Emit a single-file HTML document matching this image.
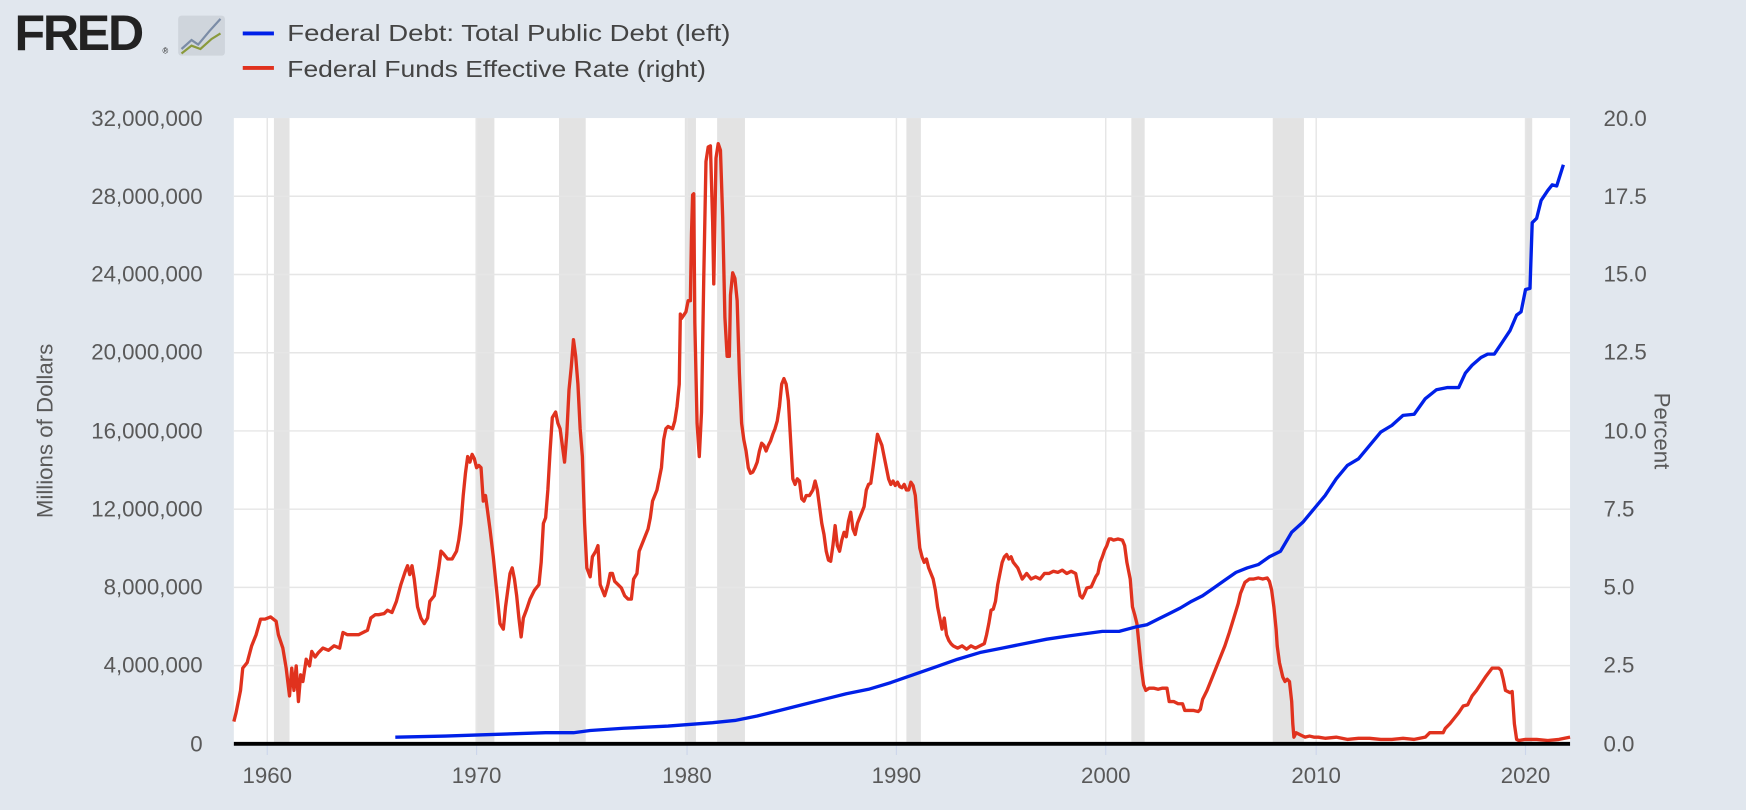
<!DOCTYPE html>
<html><head><meta charset="utf-8"><style>
html,body{margin:0;padding:0;background:#e1e7ee;}
svg{display:block;}
text{font-family:"Liberation Sans",sans-serif;fill:#595959;}
</style></head><body>
<svg width="1746" height="810" viewBox="0 0 1568 727.4" preserveAspectRatio="none" xmlns="http://www.w3.org/2000/svg">
<rect x="0" y="0" width="1568" height="727.4" fill="#e1e7ee"/>
<text x="13" y="45" style="font-weight:bold;font-size:45px;fill:#222;letter-spacing:-2px">FRED</text>
<text x="146" y="48" style="font-size:7px;fill:#222">®</text>
<rect x="160" y="14" width="42" height="36" rx="3" fill="#cfd5dc"/>
<polyline points="163,44 172,36 178,40 188,28 198,17" fill="none" stroke="#7b8ca6" stroke-width="2"/>
<polyline points="163,48 172,41 180,44 190,35 198,30" fill="none" stroke="#8a9a3c" stroke-width="2"/>
<line x1="218" y1="30" x2="246" y2="30" stroke="#0020e8" stroke-width="3.5"/>
<line x1="218" y1="61" x2="246" y2="61" stroke="#e0321e" stroke-width="3.5"/>
<text x="258" y="37" textLength="398" lengthAdjust="spacingAndGlyphs" style="font-size:21px;fill:#444">Federal Debt: Total Public Debt (left)</text>
<text x="258" y="69" textLength="376" lengthAdjust="spacingAndGlyphs" style="font-size:21px;fill:#444">Federal Funds Effective Rate (right)</text>
<rect x="210" y="106" width="1200" height="562" fill="#fff"/>
<g fill="#e3e3e3">
<rect x="246" y="106" width="14" height="562"/><rect x="427" y="106" width="17" height="562"/>
<rect x="502" y="106" width="24" height="562"/><rect x="615" y="106" width="10" height="562"/>
<rect x="644" y="106" width="25" height="562"/><rect x="814" y="106" width="13" height="562"/>
<rect x="1016" y="106" width="12" height="562"/><rect x="1143" y="106" width="28" height="562"/>
<rect x="1370" y="106" width="6" height="562"/>
</g>
<g stroke="#e6e6e6" stroke-width="1.3">
<line x1="210" y1="176.25" x2="1410" y2="176.25"/><line x1="210" y1="246.5" x2="1410" y2="246.5"/>
<line x1="210" y1="316.75" x2="1410" y2="316.75"/><line x1="210" y1="387" x2="1410" y2="387"/>
<line x1="210" y1="457.25" x2="1410" y2="457.25"/><line x1="210" y1="527.5" x2="1410" y2="527.5"/>
<line x1="210" y1="597.75" x2="1410" y2="597.75"/>
<line x1="240" y1="106" x2="240" y2="668"/><line x1="428" y1="106" x2="428" y2="668"/>
<line x1="617" y1="106" x2="617" y2="668"/><line x1="805" y1="106" x2="805" y2="668"/>
<line x1="993" y1="106" x2="993" y2="668"/><line x1="1182" y1="106" x2="1182" y2="668"/>
<line x1="1370" y1="106" x2="1370" y2="668"/>
</g>
<g stroke="#ccd6eb" stroke-width="1">
<line x1="240" y1="668" x2="240" y2="678"/><line x1="428" y1="668" x2="428" y2="678"/><line x1="617" y1="668" x2="617" y2="678"/><line x1="805" y1="668" x2="805" y2="678"/><line x1="993" y1="668" x2="993" y2="678"/><line x1="1182" y1="668" x2="1182" y2="678"/><line x1="1370" y1="668" x2="1370" y2="678"/>
</g>
<polyline fill="none" stroke="#e0321e" stroke-width="3" stroke-linejoin="round" points="210,648 212,640 214,630 216,620 218,600 222,595 226,580 230,570 234,556 238,556 243,554 248,558 250,570 254,582 257,600 260,625 262,600 264,620 266,598 268,630 270,606 272,612 275,592 278,598 280,585 283,590 286,586 290,582 295,584 300,580 305,582 308,568 312,570 318,570 322,570 326,568 330,566 333,555 337,552 340,552 345,551 348,548 352,550 356,540 360,525 364,513 366,508 368,516 370,508 372,520 375,545 378,555 381,560 384,555 386,540 390,535 394,510 396,495 398,497 402,502 406,502 410,495 412,485 414,470 416,445 418,425 420,410 422,415 424,408 426,412 428,420 430,418 432,420 434,450 436,445 438,460 440,475 443,500 446,530 449,560 452,565 454,545 456,530 458,515 460,510 462,520 464,535 466,555 468,572 470,555 473,547 476,538 480,530 484,525 486,505 488,470 490,465 492,440 494,405 496,375 499,370 501,380 503,385 505,400 507,415 509,390 511,350 513,330 515,305 517,320 519,345 521,385 523,410 525,470 527,510 530,518 532,500 535,495 537,490 539,525 541,530 543,535 546,525 548,515 550,515 552,522 555,525 558,528 561,535 564,538 567,538 569,520 572,515 574,495 578,485 582,475 584,465 586,450 590,440 594,420 596,395 598,385 600,383 604,385 606,378 608,365 610,345 611,282 612,286 614,283 616,280 618,270 620,270 621,210 622,175 623,174 624,290 626,380 628,410 630,370 632,250 634,145 636,132 638,131 640,200 641,255 643,142 645,129 647,135 649,195 651,285 653,320 655,320 656,265 658,245 660,250 662,270 664,335 666,380 668,395 670,405 672,420 674,425 676,424 678,420 680,415 682,405 684,398 686,400 688,405 690,400 692,396 694,390 696,385 698,378 700,365 702,345 704,340 706,345 708,360 710,395 712,430 714,435 716,430 718,432 720,448 722,450 724,445 727,445 730,440 732,432 734,440 736,455 738,470 740,480 742,495 744,503 746,504 748,490 750,472 752,490 754,495 756,485 758,478 760,482 762,468 764,460 766,475 768,480 770,470 772,465 774,460 776,455 778,440 780,435 782,434 784,420 786,405 788,390 790,395 792,400 794,410 796,420 798,430 800,435 802,432 804,436 806,433 808,437 810,438 812,435 814,440 816,440 818,433 820,436 822,445 824,470 826,492 828,500 830,505 832,502 834,510 838,520 840,530 842,545 844,555 846,565 848,555 850,570 852,575 854,578 856,580 860,582 864,580 868,583 872,580 876,582 880,580 884,578 886,570 888,560 890,548 892,547 894,540 896,525 898,515 900,505 902,500 904,498 906,502 908,500 910,505 914,510 918,520 922,515 926,520 930,518 934,520 938,515 942,515 946,513 950,514 954,512 958,515 962,513 966,515 968,525 970,535 972,537 974,533 976,528 980,527 984,518 986,515 988,505 990,500 992,494 994,490 996,484 998,484 1000,485 1004,484 1008,485 1010,490 1012,505 1015,520 1017,545 1019,552 1021,560 1023,580 1025,600 1027,615 1029,620 1032,618 1036,618 1040,619 1044,618 1048,618 1050,630 1054,630 1058,632 1062,632 1064,638 1068,638 1072,638 1076,639 1078,637 1080,628 1084,620 1088,610 1092,600 1096,590 1100,580 1104,568 1108,555 1112,542 1114,533 1118,523 1122,520 1126,520 1130,519 1134,520 1138,519 1140,522 1142,530 1144,545 1146,565 1147,580 1149,595 1152,608 1154,612 1156,610 1158,612 1160,630 1161,650 1162,662 1164,658 1168,660 1172,662 1176,661 1180,662 1184,662 1190,663 1200,662 1210,664 1220,663 1230,663 1240,664 1250,664 1260,663 1270,664 1280,662 1284,658 1290,658 1296,658 1298,654 1302,650 1306,645 1310,640 1314,634 1318,633 1322,625 1326,620 1330,614 1334,608 1340,600 1346,600 1348,602 1350,610 1352,620 1356,622 1358,621 1360,650 1362,664 1364,665 1370,664 1380,664 1390,665 1400,664 1405,663 1410,662"/>
<polyline fill="none" stroke="#0020e8" stroke-width="3" stroke-linejoin="round" points="355,662 400,661 430,660 460,659 490,658 515,658 530,656 560,654 600,652 640,649 660,647 680,643 700,638 720,633 740,628 760,623 780,619 800,613 820,606 840,599 860,592 880,586 900,582 920,578 940,574 960,571 975,569 990,567 1005,567 1020,563 1030,561 1040,556 1050,551 1060,546 1070,540 1080,535 1090,528 1100,521 1110,514 1120,510 1130,507 1140,500 1150,495 1160,478 1170,469 1180,457 1190,445 1200,430 1210,418 1220,412 1230,400 1240,388 1250,382 1260,373 1270,372 1280,358 1290,350 1300,348 1310,348 1316,335 1322,328 1330,321 1336,318 1342,318 1350,306 1356,297 1362,283 1366,280 1370,260 1374,259 1376,200 1380,196 1384,180 1390,171 1394,166 1398,167 1404,148"/>
<line x1="210" y1="668" x2="1410" y2="668" stroke="#000" stroke-width="3.5"/>
<g style="font-size:20px" text-anchor="end">
<text x="182" y="113">32,000,000</text><text x="182" y="183">28,000,000</text><text x="182" y="253">24,000,000</text><text x="182" y="323">20,000,000</text><text x="182" y="394">16,000,000</text><text x="182" y="464">12,000,000</text><text x="182" y="534">8,000,000</text><text x="182" y="604">4,000,000</text><text x="182" y="675">0</text>
</g>
<g style="font-size:20px">
<text x="1440" y="113">20.0</text><text x="1440" y="183">17.5</text><text x="1440" y="253">15.0</text><text x="1440" y="323">12.5</text><text x="1440" y="394">10.0</text><text x="1440" y="464">7.5</text><text x="1440" y="534">5.0</text><text x="1440" y="604">2.5</text><text x="1440" y="675">0.0</text>
</g>
<g style="font-size:20px" text-anchor="middle">
<text x="240" y="703">1960</text><text x="428" y="703">1970</text><text x="617" y="703">1980</text><text x="805" y="703">1990</text><text x="993" y="703">2000</text><text x="1182" y="703">2010</text><text x="1370" y="703">2020</text>
</g>
<text transform="translate(47,387) rotate(-90)" text-anchor="middle" style="font-size:20px">Millions of Dollars</text>
<text transform="translate(1486,387) rotate(90)" text-anchor="middle" style="font-size:20px">Percent</text>
</svg>
</body></html>
